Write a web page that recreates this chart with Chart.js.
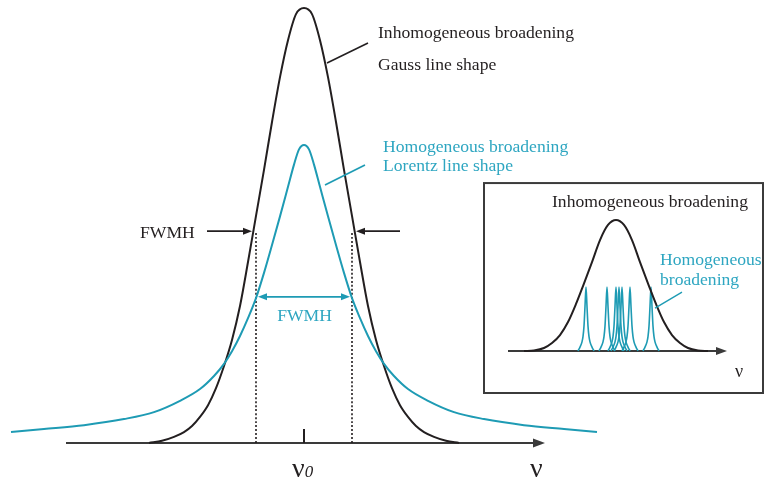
<!DOCTYPE html>
<html>
<head>
<meta charset="utf-8">
<script src="https://cdn.jsdelivr.net/npm/chart.js@4.4.1/dist/chart.umd.min.js"></script>
<style>
  html, body { margin: 0; padding: 0; background: #fff; }
  #wrap { position: relative; width: 768px; height: 483px; }
</style>
</head>
<body>
<div id="wrap"><canvas id="chart" width="768" height="483"></canvas></div>
<script>
// main plot: frequency offset from nu0 (arb. units), relative intensity
const gaussX = [-15.5, -14.2, -13, -12, -11.2, -10.4, -9.6, -8.8, -8, -7.2, -6.4, -5.6, -4.8, -4, -3.2, -2.4, -1.6, -0.8,
  0, 0.8, 1.6, 2.4, 3.2, 4, 4.8, 5.6, 6.4, 7.2, 8, 8.8, 9.6, 10.4, 11.2, 12, 13, 14.2, 15.5]
const gaussY = [0, 0.005, 0.014, 0.025, 0.039, 0.06, 0.087, 0.126, 0.177, 0.237, 0.315, 0.416, 0.522, 0.628, 0.738, 0.841, 0.926, 0.986,
  1, 0.986, 0.926, 0.841, 0.738, 0.628, 0.522, 0.416, 0.315, 0.237, 0.177, 0.126, 0.087, 0.06, 0.039, 0.025, 0.014, 0.005, 0]

const lorentzX = [-29.3, -26, -22, -18, -15, -12.4, -10.4, -9, -8, -7.2, -6.4, -5.6, -4.8, -4, -3.2, -2.4, -1.6, -1, -0.5,
  0, 0.5, 1, 1.6, 2.4, 3.2, 4, 4.8, 5.6, 6.4, 7.2, 8, 9, 10.4, 12.4, 15, 18, 22, 26, 29.3]
const lorentzY = [0.025, 0.032, 0.041, 0.055, 0.071, 0.097, 0.124, 0.154, 0.182, 0.211, 0.246, 0.287, 0.333, 0.391, 0.455, 0.521, 0.589, 0.64, 0.675,
  0.685, 0.675, 0.64, 0.589, 0.521, 0.455, 0.391, 0.333, 0.287, 0.246, 0.211, 0.182, 0.154, 0.124, 0.097, 0.071, 0.055, 0.041, 0.032, 0.025]

// FWHM markers
const fwhmX = [-4.8, 4.8]
const fwhmTop = 0.485

// inset: envelope and individual homogeneous lines
const insetX = [-9.2, -8.2, -7.2, -6.4, -5.6, -4.8, -4, -3.3, -2.4, -1.6, -0.8, 0, 0.8, 1.6, 2.4, 3.3, 4, 4.8, 5.6, 6.4, 7.2, 8.2, 9.2]
const insetY = [0, 0.004, 0.023, 0.061, 0.122, 0.221, 0.359, 0.496, 0.679, 0.847, 0.962, 1, 0.962, 0.847, 0.679, 0.496, 0.359, 0.221, 0.122, 0.061, 0.023, 0.004, 0]
const lineCenters = [-3.0, -0.9, 0.0, 0.3, 0.6, 1.4, 3.5]
const lineOffsets = [-0.8, -0.6, -0.4, -0.3, -0.2, -0.1, 0, 0.1, 0.2, 0.3, 0.4, 0.6, 0.8]
const lineShape = [0, 0.03, 0.07, 0.11, 0.19, 0.34, 0.489, 0.34, 0.19, 0.11, 0.07, 0.03, 0]

const ink = '#231f20'
const teal = '#1e9bb4'
const tealText = '#2ea6c1'
const serif = '"Liberation Serif", "Times New Roman", serif'
const labelSize = 17.6

function pts(xs, ys) {
  return xs.map((x, i) => ({ x: x, y: ys[i] }))
}

const datasets = [
  { data: pts(lorentzX, lorentzY), borderColor: teal, borderWidth: 2, xAxisID: 'x', yAxisID: 'y' },
  { data: pts(gaussX, gaussY), borderColor: ink, borderWidth: 2, xAxisID: 'x', yAxisID: 'y' }
]
fwhmX.forEach(x => {
  datasets.push({
    data: [{ x: x, y: 0 }, { x: x, y: fwhmTop }],
    borderColor: ink, borderWidth: 1.6, borderDash: [2, 2],
    xAxisID: 'x', yAxisID: 'y'
  })
})
datasets.push({ data: pts(insetX, insetY), borderColor: ink, borderWidth: 2, xAxisID: 'ix', yAxisID: 'iy' })
lineCenters.forEach(c => {
  datasets.push({
    data: lineOffsets.map((o, i) => ({ x: c + o, y: lineShape[i] })),
    borderColor: teal, borderWidth: 1.6, xAxisID: 'ix', yAxisID: 'iy'
  })
})

function arrowHead(ctx, x1, y1, x2, y2, len, half, color) {
  const a = Math.atan2(y2 - y1, x2 - x1)
  ctx.save()
  ctx.fillStyle = color
  ctx.translate(x2, y2)
  ctx.rotate(a)
  ctx.beginPath()
  ctx.moveTo(0, 0)
  ctx.lineTo(-len, -half)
  ctx.lineTo(-len, half)
  ctx.closePath()
  ctx.fill()
  ctx.restore()
}

function line(ctx, a, b, color, w) {
  ctx.save()
  ctx.strokeStyle = color
  ctx.lineWidth = w
  ctx.beginPath()
  ctx.moveTo(a[0], a[1])
  ctx.lineTo(b[0], b[1])
  ctx.stroke()
  ctx.restore()
}

const decor = {
  id: 'decor',
  beforeDatasetsDraw(chart) {
    const ctx = chart.ctx
    const s = chart.scales
    const P = (x, y) => [s.x.getPixelForValue(x), s.y.getPixelForValue(y)]
    const Q = (x, y) => [s.ix.getPixelForValue(x), s.iy.getPixelForValue(y)]

    // main frequency axis
    let a = P(-23.8, 0), b = P(24.1, 0)
    line(ctx, a, [b[0] - 6, b[1]], '#3a3a3a', 2)
    arrowHead(ctx, a[0], a[1], b[0], b[1], 12, 4.5, '#3a3a3a')
    line(ctx, P(0, 0), P(0, 0.032), ink, 2)

    // inset box and axis
    const tl = Q(-13.2, 1.282), br = Q(14.7, -0.3206)
    ctx.save()
    ctx.strokeStyle = '#3b3b3b'
    ctx.lineWidth = 2
    ctx.strokeRect(tl[0], tl[1], br[0] - tl[0], br[1] - tl[1])
    ctx.restore()
    a = Q(-10.8, 0); b = Q(11.1, 0)
    line(ctx, a, [b[0] - 6, b[1]], '#3a3a3a', 2)
    arrowHead(ctx, a[0], a[1], b[0], b[1], 11, 4, '#3a3a3a')
  },
  afterDatasetsDraw(chart) {
    const ctx = chart.ctx
    const s = chart.scales
    const P = (x, y) => [s.x.getPixelForValue(x), s.y.getPixelForValue(y)]
    const Q = (x, y) => [s.ix.getPixelForValue(x), s.iy.getPixelForValue(y)]

    // FWHM arrows on the Gauss curve
    let a = P(-9.7, 0.487), b = P(-5.2, 0.487)
    line(ctx, a, [b[0] - 5, b[1]], ink, 1.6)
    arrowHead(ctx, a[0], a[1], b[0], b[1], 9, 3.5, ink)
    a = P(9.6, 0.487); b = P(5.2, 0.487)
    line(ctx, a, [b[0] + 5, b[1]], ink, 1.6)
    arrowHead(ctx, a[0], a[1], b[0], b[1], 9, 3.5, ink)

    // FWHM double arrow on the Lorentz curve
    a = P(-4.6, 0.336); b = P(4.6, 0.336)
    line(ctx, [a[0] + 5, a[1]], [b[0] - 5, b[1]], teal, 1.6)
    arrowHead(ctx, a[0], a[1], b[0], b[1], 9, 3.5, teal)
    arrowHead(ctx, b[0], b[1], a[0], a[1], 9, 3.5, teal)

    // leader lines
    line(ctx, P(2.3, 0.8736), P(6.4, 0.9195), ink, 1.6)
    line(ctx, P(2.1, 0.593), P(6.1, 0.639), teal, 1.6)
    line(ctx, Q(3.9, 0.328), Q(6.6, 0.45), teal, 1.4)

    // labels
    const text = (str, p, color, size, align, style) => {
      ctx.save()
      ctx.fillStyle = color
      ctx.font = (style || '') + ' ' + size + 'px ' + serif
      ctx.textAlign = align || 'left'
      ctx.textBaseline = 'middle'
      ctx.fillText(str, p[0], p[1])
      ctx.restore()
    }
    text('Inhomogeneous broadening', P(7.4, 0.9425), ink, labelSize)
    text('Gauss line shape', P(7.4, 0.869), ink, labelSize)
    text('Homogeneous broadening', P(7.9, 0.68), tealText, labelSize)
    text('Lorentz line shape', P(7.9, 0.637), tealText, labelSize)
    text('FWMH', P(-16.4, 0.483), ink, labelSize)
    text('FWMH', P(0.05, 0.292), tealText, labelSize, 'center')

    text('Inhomogeneous broadening', Q(-6.4, 1.137), ink, labelSize)
    text('Homogeneous', Q(4.4, 0.695), tealText, labelSize)
    text('broadening', Q(4.4, 0.542), tealText, labelSize)

    ctx.save()
    ctx.fillStyle = ink
    ctx.textBaseline = 'alphabetic'
    ctx.font = '28px ' + serif
    let p = P(-1.2, -0.078)
    ctx.fillText('ν', p[0], p[1])
    const w = ctx.measureText('ν').width
    ctx.font = 'italic 17px ' + serif
    ctx.fillText('0', p[0] + w, p[1])
    ctx.font = '28px ' + serif
    p = P(22.6, -0.078)
    ctx.fillText('ν', p[0], p[1])
    ctx.font = '18px ' + serif
    p = Q(11.9, -0.198)
    ctx.fillText('ν', p[0], p[1])
    ctx.restore()
  }
}

new Chart(document.getElementById('chart'), {
  type: 'line',
  data: { datasets: datasets },
  options: {
    responsive: false,
    animation: false,
    layout: { padding: 0 },
    plugins: { legend: { display: false }, tooltip: { enabled: false } },
    elements: {
      point: { radius: 0 },
      line: { cubicInterpolationMode: 'monotone', fill: false }
    },
    scales: {
      x: { type: 'linear', display: false, min: -30.4, max: 46.4 },
      y: { type: 'linear', display: false, min: -0.092, max: 1.0184 },
      ix: { type: 'linear', axis: 'x', display: false, min: -61.6, max: 15.2 },
      iy: { type: 'linear', axis: 'y', display: false, min: -1.0076, max: 2.6794 }
    }
  },
  plugins: [decor]
})
</script>
</body>
</html>
